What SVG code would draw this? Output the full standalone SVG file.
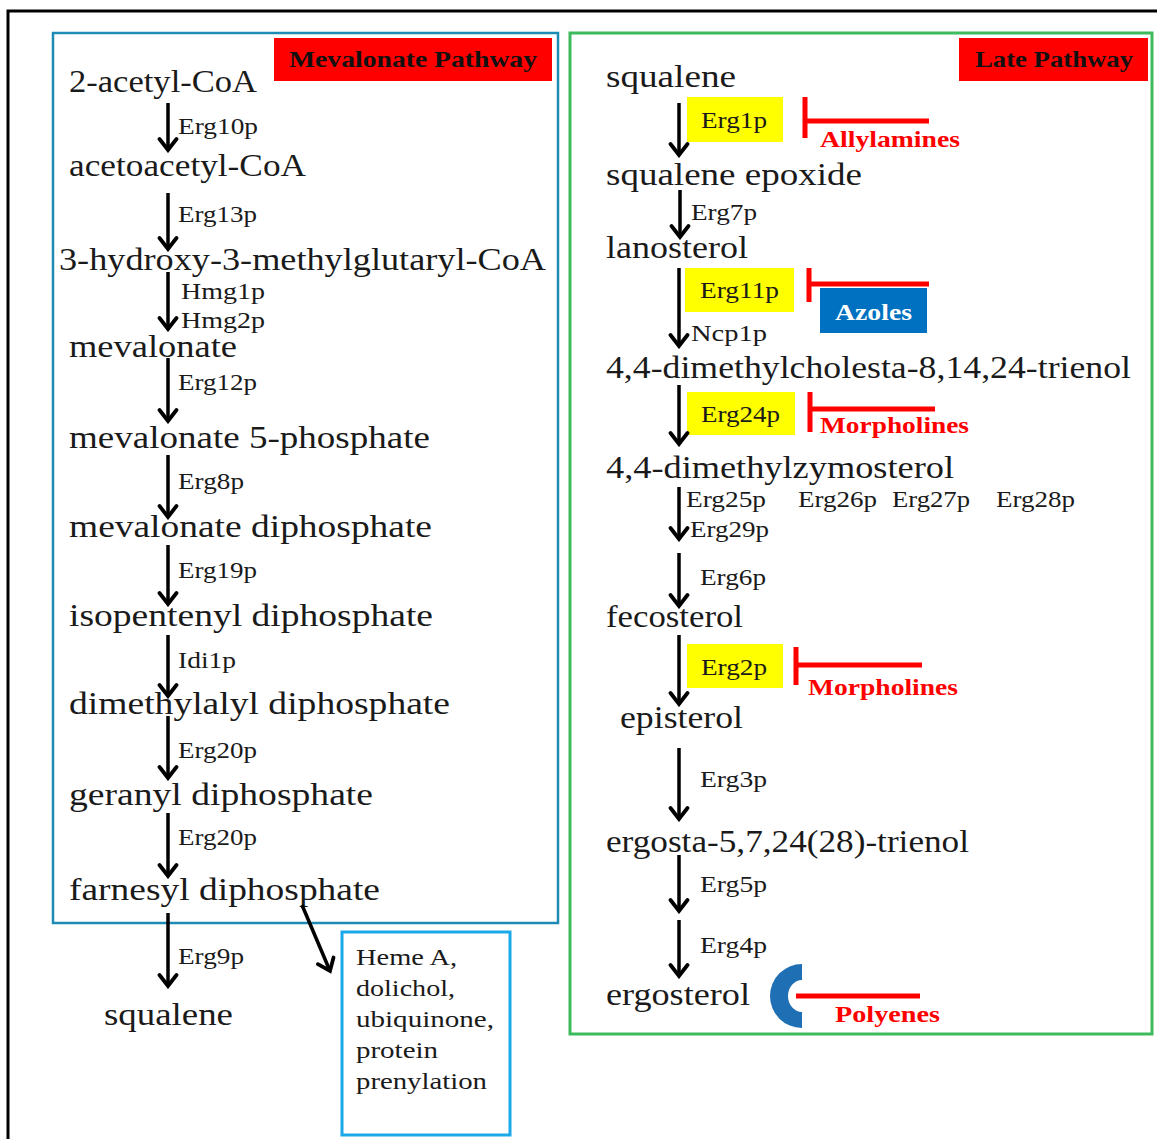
<svg xmlns="http://www.w3.org/2000/svg" width="1157" height="1139" viewBox="0 0 1157 1139">
<defs>
<style>
text{font-family:"Liberation Serif","Times New Roman",serif;fill:#1a1a1a}
.m{font-size:31px}
.e{font-size:23px}
.hd{font-size:23px;font-weight:bold;fill:#111}
.r{font-size:23px;font-weight:bold;fill:#ff0000}
.az{font-size:23px;font-weight:bold;fill:#ffffff}
.hm{font-size:24px}
.arr{stroke:#000;stroke-width:3.5;fill:none;marker-end:url(#ah)}
.inh{stroke:#ff0000;stroke-width:5;fill:none}
.yb{fill:#ffff00}
</style>
<marker id="ah" viewBox="-14 -11 17 22" refX="0" refY="0" markerWidth="17" markerHeight="22" markerUnits="userSpaceOnUse" orient="auto">
<path d="M-11,-8.5 L0,0 L-11,8.5" stroke="#000" stroke-width="3.8" fill="none" stroke-linecap="round" stroke-linejoin="miter"/>
</marker>
</defs>
<rect width="1157" height="1139" fill="#ffffff"/>
<path d="M8,1139 L8,11 L1157,11" stroke="#000" stroke-width="3" fill="none"/>

<g id="mevalonate-box">
<rect x="53" y="33" width="505" height="890" fill="none" stroke="#1e8bb5" stroke-width="2.5"/>
<rect x="274" y="38" width="278" height="43" fill="#ff0000"/>
<text class="hd" x="289" y="67" textLength="248" lengthAdjust="spacingAndGlyphs">Mevalonate Pathway</text>
</g>
<g id="late-box">
<rect x="570" y="33" width="582" height="1001" fill="none" stroke="#3cba5c" stroke-width="3"/>
<rect x="959" y="38" width="189" height="43" fill="#ff0000"/>
<text class="hd" x="975" y="67" textLength="158" lengthAdjust="spacingAndGlyphs">Late Pathway</text>
</g>

<g id="n-acetylcoa"><text class="m" x="69" y="92" textLength="188" lengthAdjust="spacingAndGlyphs">2-acetyl-CoA</text></g>
<g id="n-acetoacetylcoa"><text class="m" x="69" y="176" textLength="237" lengthAdjust="spacingAndGlyphs">acetoacetyl-CoA</text></g>
<g id="n-hmgcoa"><text class="m" x="59" y="270" textLength="487" lengthAdjust="spacingAndGlyphs">3-hydroxy-3-methylglutaryl-CoA</text></g>
<g id="n-mevalonate"><text class="m" x="69" y="357" textLength="168" lengthAdjust="spacingAndGlyphs">mevalonate</text></g>
<g id="n-mev5p"><text class="m" x="69" y="448" textLength="361" lengthAdjust="spacingAndGlyphs">mevalonate 5-phosphate</text></g>
<g id="n-mevpp"><text class="m" x="69" y="537" textLength="363" lengthAdjust="spacingAndGlyphs">mevalonate diphosphate</text></g>
<g id="n-ipp"><text class="m" x="69" y="626" textLength="364" lengthAdjust="spacingAndGlyphs">isopentenyl diphosphate</text></g>
<g id="n-dmapp"><text class="m" x="69" y="714" textLength="381" lengthAdjust="spacingAndGlyphs">dimethylalyl diphosphate</text></g>
<g id="n-gpp"><text class="m" x="69" y="805" textLength="304" lengthAdjust="spacingAndGlyphs">geranyl diphosphate</text></g>
<g id="n-fpp"><text class="m" x="69" y="900" textLength="311" lengthAdjust="spacingAndGlyphs">farnesyl diphosphate</text></g>
<g id="n-squalene-left"><text class="m" x="104" y="1025" textLength="129" lengthAdjust="spacingAndGlyphs">squalene</text></g>
<g id="n-heme">
<rect x="342" y="932" width="168" height="203" fill="none" stroke="#1aa8e8" stroke-width="3"/>
<text class="hm" x="356" y="965" textLength="101" lengthAdjust="spacingAndGlyphs">Heme A,</text>
<text class="hm" x="356" y="996" textLength="99" lengthAdjust="spacingAndGlyphs">dolichol,</text>
<text class="hm" x="356" y="1027" textLength="138" lengthAdjust="spacingAndGlyphs">ubiquinone,</text>
<text class="hm" x="356" y="1058" textLength="82" lengthAdjust="spacingAndGlyphs">protein</text>
<text class="hm" x="356" y="1089" textLength="131" lengthAdjust="spacingAndGlyphs">prenylation</text>
</g>

<g id="n-squalene"><text class="m" x="606" y="87" textLength="130" lengthAdjust="spacingAndGlyphs">squalene</text></g>
<g id="n-squalene-epoxide"><text class="m" x="606" y="185" textLength="256" lengthAdjust="spacingAndGlyphs">squalene epoxide</text></g>
<g id="n-lanosterol"><text class="m" x="606" y="258" textLength="142" lengthAdjust="spacingAndGlyphs">lanosterol</text></g>
<g id="n-trienol"><text class="m" x="606" y="378" textLength="525" lengthAdjust="spacingAndGlyphs">4,4-dimethylcholesta-8,14,24-trienol</text></g>
<g id="n-zymosterol"><text class="m" x="606" y="478" textLength="348" lengthAdjust="spacingAndGlyphs">4,4-dimethylzymosterol</text></g>
<g id="n-fecosterol"><text class="m" x="606" y="627" textLength="137" lengthAdjust="spacingAndGlyphs">fecosterol</text></g>
<g id="n-episterol"><text class="m" x="620" y="728" textLength="123" lengthAdjust="spacingAndGlyphs">episterol</text></g>
<g id="n-ergosta"><text class="m" x="606" y="852" textLength="363" lengthAdjust="spacingAndGlyphs">ergosta-5,7,24(28)-trienol</text></g>
<g id="n-ergosterol"><text class="m" x="606" y="1005" textLength="144" lengthAdjust="spacingAndGlyphs">ergosterol</text></g>

<g id="enzymes-left">
<text class="e" x="178" y="134" textLength="80" lengthAdjust="spacingAndGlyphs">Erg10p</text>
<text class="e" x="178" y="222" textLength="79" lengthAdjust="spacingAndGlyphs">Erg13p</text>
<text class="e" x="181" y="299" textLength="84" lengthAdjust="spacingAndGlyphs">Hmg1p</text>
<text class="e" x="181" y="328" textLength="84" lengthAdjust="spacingAndGlyphs">Hmg2p</text>
<text class="e" x="178" y="390" textLength="79" lengthAdjust="spacingAndGlyphs">Erg12p</text>
<text class="e" x="178" y="489" textLength="66" lengthAdjust="spacingAndGlyphs">Erg8p</text>
<text class="e" x="178" y="578" textLength="79" lengthAdjust="spacingAndGlyphs">Erg19p</text>
<text class="e" x="178" y="668" textLength="58" lengthAdjust="spacingAndGlyphs">Idi1p</text>
<text class="e" x="178" y="758" textLength="79" lengthAdjust="spacingAndGlyphs">Erg20p</text>
<text class="e" x="178" y="845" textLength="79" lengthAdjust="spacingAndGlyphs">Erg20p</text>
<text class="e" x="178" y="964" textLength="66" lengthAdjust="spacingAndGlyphs">Erg9p</text>
</g>

<g id="enzymes-right">
<rect class="yb" x="687" y="97" width="96" height="45"/>
<text class="e" x="701" y="128" textLength="66" lengthAdjust="spacingAndGlyphs">Erg1p</text>
<text class="e" x="691" y="220" textLength="66" lengthAdjust="spacingAndGlyphs">Erg7p</text>
<rect class="yb" x="685" y="268" width="109" height="44"/>
<text class="e" x="700" y="298" textLength="79" lengthAdjust="spacingAndGlyphs">Erg11p</text>
<text class="e" x="691" y="341" textLength="76" lengthAdjust="spacingAndGlyphs">Ncp1p</text>
<rect class="yb" x="687" y="392" width="108" height="43"/>
<text class="e" x="701" y="422" textLength="79" lengthAdjust="spacingAndGlyphs">Erg24p</text>
<text class="e" x="686" y="507" textLength="80" lengthAdjust="spacingAndGlyphs">Erg25p</text>
<text class="e" x="798" y="507" textLength="79" lengthAdjust="spacingAndGlyphs">Erg26p</text>
<text class="e" x="892" y="507" textLength="78" lengthAdjust="spacingAndGlyphs">Erg27p</text>
<text class="e" x="996" y="507" textLength="79" lengthAdjust="spacingAndGlyphs">Erg28p</text>
<text class="e" x="690" y="537" textLength="79" lengthAdjust="spacingAndGlyphs">Erg29p</text>
<text class="e" x="700" y="585" textLength="66" lengthAdjust="spacingAndGlyphs">Erg6p</text>
<rect class="yb" x="687" y="644" width="96" height="44"/>
<text class="e" x="701" y="675" textLength="66" lengthAdjust="spacingAndGlyphs">Erg2p</text>
<text class="e" x="700" y="787" textLength="67" lengthAdjust="spacingAndGlyphs">Erg3p</text>
<text class="e" x="700" y="892" textLength="67" lengthAdjust="spacingAndGlyphs">Erg5p</text>
<text class="e" x="700" y="953" textLength="67" lengthAdjust="spacingAndGlyphs">Erg4p</text>
</g>

<g id="inhibitors">
<g id="allylamines">
<path class="inh" d="M805,97 V138 M805,121 H929"/>
<text class="r" x="820" y="147" textLength="140" lengthAdjust="spacingAndGlyphs">Allylamines</text>
</g>
<g id="azoles">
<path class="inh" d="M809,268 V302 M809,284 H929"/>
<rect x="820" y="288" width="107" height="45" fill="#0070c0"/>
<text class="az" x="835" y="320" textLength="77" lengthAdjust="spacingAndGlyphs">Azoles</text>
</g>
<g id="morpholines-1">
<path class="inh" d="M810,392 V432 M810,409 H935"/>
<text class="r" x="820" y="433" textLength="149" lengthAdjust="spacingAndGlyphs">Morpholines</text>
</g>
<g id="morpholines-2">
<path class="inh" d="M796,647 V685 M796,665 H922"/>
<text class="r" x="808" y="695" textLength="150" lengthAdjust="spacingAndGlyphs">Morpholines</text>
</g>
<g id="polyenes">
<path d="M802,964 A32,32 0 0 0 802,1028 L802,1012 A14,16 0 0 1 802,980 Z" fill="#1f6fb5"/>
<path class="inh" d="M796,996 H920"/>
<text class="r" x="835" y="1022" textLength="105" lengthAdjust="spacingAndGlyphs">Polyenes</text>
</g>
</g>

<g id="connectors">
<line class="arr" x1="168" y1="103" x2="168" y2="150"/>
<line class="arr" x1="168" y1="193" x2="168" y2="249"/>
<line class="arr" x1="168" y1="272" x2="168" y2="329"/>
<line class="arr" x1="168" y1="358" x2="168" y2="421"/>
<line class="arr" x1="168" y1="455" x2="168" y2="517"/>
<line class="arr" x1="168" y1="545" x2="168" y2="604"/>
<line class="arr" x1="168" y1="635" x2="168" y2="696"/>
<line class="arr" x1="168" y1="716" x2="168" y2="778"/>
<line class="arr" x1="168" y1="813" x2="168" y2="876"/>
<line class="arr" x1="168" y1="913" x2="168" y2="986"/>
<line class="arr" x1="302" y1="905" x2="330" y2="971"/>
<line class="arr" x1="679" y1="103" x2="679" y2="155"/>
<line class="arr" x1="680" y1="190" x2="680" y2="237"/>
<line class="arr" x1="679" y1="268" x2="679" y2="346"/>
<line class="arr" x1="679" y1="385" x2="679" y2="444"/>
<line class="arr" x1="679" y1="487" x2="679" y2="539"/>
<line class="arr" x1="679" y1="553" x2="679" y2="606"/>
<line class="arr" x1="679" y1="635" x2="679" y2="704"/>
<line class="arr" x1="679" y1="748" x2="679" y2="819"/>
<line class="arr" x1="679" y1="855" x2="679" y2="911"/>
<line class="arr" x1="679" y1="920" x2="679" y2="976"/>
</g>
</svg>
